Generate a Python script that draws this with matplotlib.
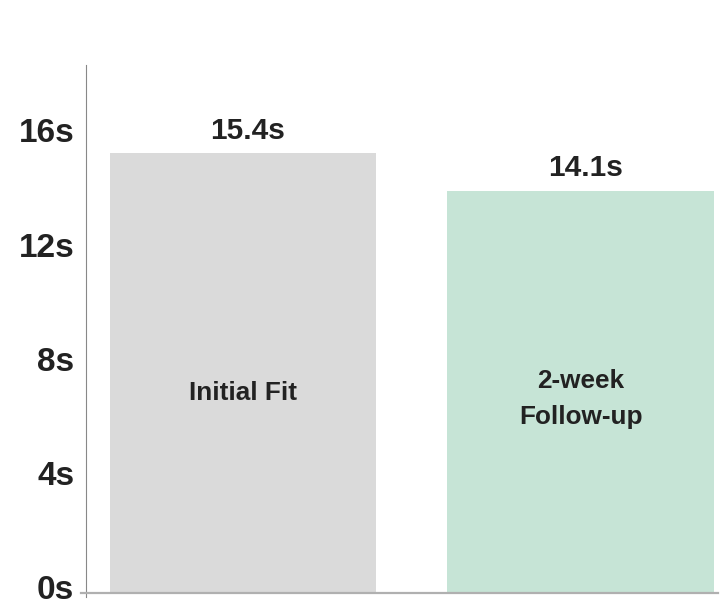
import matplotlib.pyplot as plt
import matplotlib.transforms as mtransforms

# data
groups = ["Initial Fit", "2-week\nFollow-up"]
times = [15.4, 14.1]
value_labels = ["15.4s", "14.1s"]
yticks = [0, 4, 8, 12, 16]
colors = ["#dadada", "#c6e4d6"]

plt.rcParams['font.family'] = ['Liberation Sans', 'DejaVu Sans']

fig = plt.figure(figsize=(7.22, 6.06), dpi=100)
ax = fig.add_axes([0.1191, 0.0215, 0.8754, 0.8712])

x = list(range(len(groups)))
ax.bar(x, times, width=0.79, color=colors)

# value above each bar
for xi, t, lab in zip(x, times, value_labels):
    ax.text(xi + 0.015, t + 0.8, lab, ha='center', va='center',
            fontsize=21.5, fontweight='bold', color='#222222')

# name inside each bar
ax.text(x[0], 7.0, groups[0], ha='center', va='center',
        fontsize=18.8, fontweight='bold', color='#222222')
ax.text(x[1], 6.8, groups[1], ha='center', va='center',
        fontsize=18.8, fontweight='bold', color='#222222', linespacing=1.67)

ax.set_xlim(-0.465, 1.407)
ax.set_ylim(0, 18.5)
ax.set_yticks(yticks)
ax.set_yticklabels([f"{v}s" for v in yticks])
ax.set_xticks([])
ax.tick_params(axis='y', length=0, pad=8.5, labelsize=24, labelcolor='#222222')

# tick labels sit a few pixels above their tick in the reference
lift = mtransforms.ScaledTranslation(0, 4.3 / 72, fig.dpi_scale_trans)
for lab in ax.get_yticklabels():
    lab.set_fontweight('bold')
    lab.set_transform(lab.get_transform() + lift)

for s in ['top', 'right']:
    ax.spines[s].set_visible(False)
ax.spines['left'].set_color('#888888')
ax.spines['left'].set_bounds(-0.15, 18.5)
ax.spines['bottom'].set_color('#b0b0b0')
ax.spines['bottom'].set_linewidth(1.6)
ax.spines['bottom'].set_bounds(-0.48, 1.407)
for s in ax.spines.values():
    s.set_clip_on(False)

fig.savefig("out.png", dpi=100)
